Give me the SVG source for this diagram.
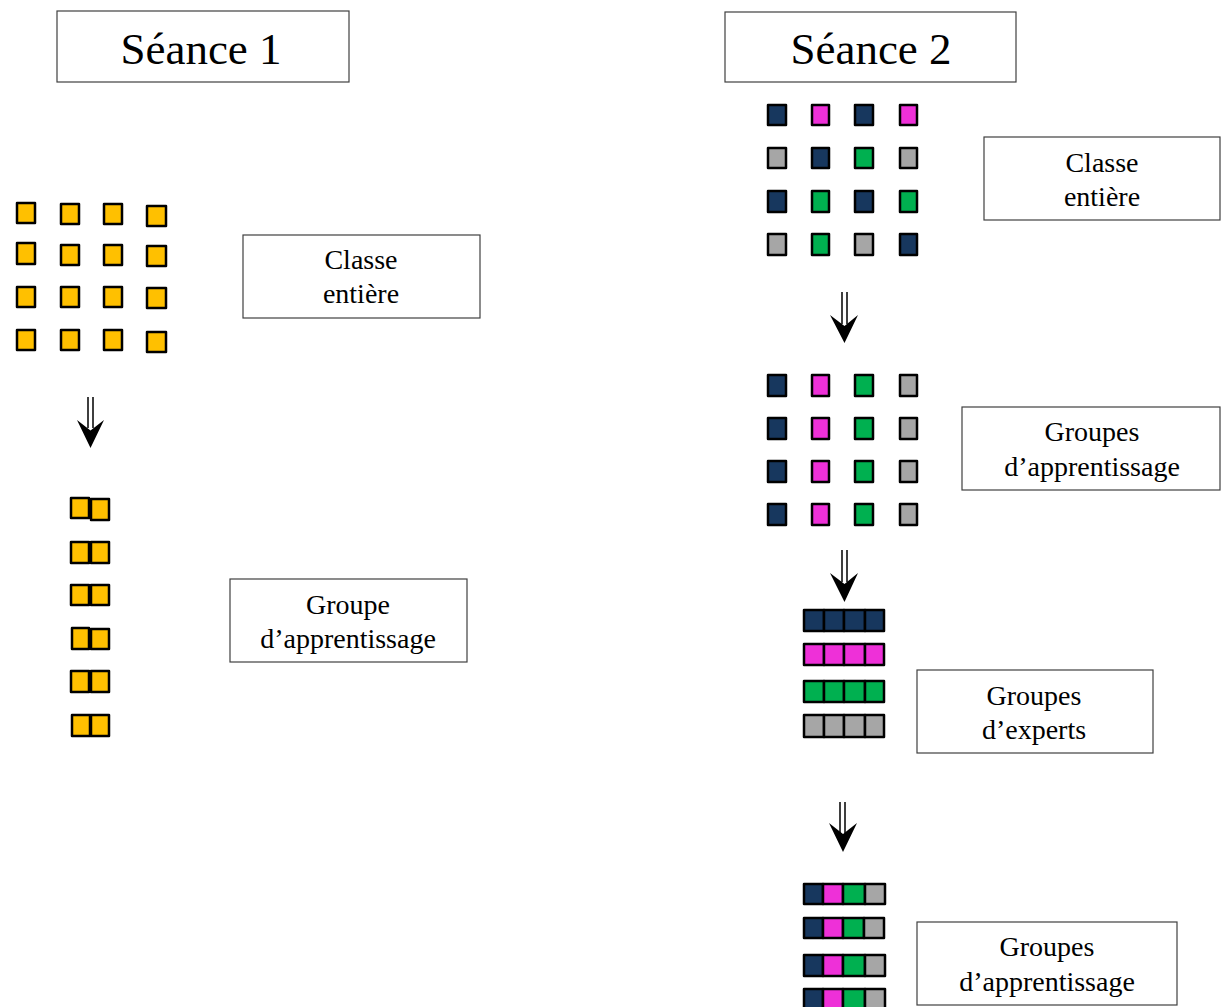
<svg xmlns="http://www.w3.org/2000/svg" width="1221" height="1007" viewBox="0 0 1221 1007">
<style>
.lbl{fill:#fff;stroke:#404040;stroke-width:1.2}
.t{font-family:"Liberation Serif","Times New Roman",serif;font-size:28px;fill:#000;text-anchor:middle}
.tt{font-family:"Liberation Serif","Times New Roman",serif;font-size:45px;fill:#000;text-anchor:middle}
.sq rect{stroke:#000;stroke-width:2.5;stroke-linejoin:round}
.o{fill:#FFC000}.n{fill:#17375E}.m{fill:#EE30D8}.g{fill:#00B050}.y{fill:#A6A6A6}
.shaft{stroke:#000;stroke-width:1.5;fill:none}
.head{fill:#000}
</style>
<rect width="1221" height="1007" fill="#fff"/>

<g id="seance1">
<rect class="lbl" x="57" y="11" width="292" height="71"/>
<text class="tt" x="201" y="64">Séance 1</text>
</g>
<g id="seance2">
<rect class="lbl" x="725" y="12" width="291" height="70"/>
<text class="tt" x="871" y="64">Séance 2</text>
</g>

<g id="label-classe-1">
<rect class="lbl" x="243" y="235" width="237" height="83"/>
<text class="t" x="361" y="269">Classe</text>
<text class="t" x="361" y="303">entière</text>
</g>
<g id="label-groupe-1">
<rect class="lbl" x="230" y="579" width="237" height="83"/>
<text class="t" x="348" y="614">Groupe</text>
<text class="t" x="348" y="648">d’apprentissage</text>
</g>
<g id="label-classe-2">
<rect class="lbl" x="984" y="137" width="236" height="83"/>
<text class="t" x="1102" y="172">Classe</text>
<text class="t" x="1102" y="206">entière</text>
</g>
<g id="label-groupes-2">
<rect class="lbl" x="962" y="407" width="258" height="83"/>
<text class="t" x="1092" y="441">Groupes</text>
<text class="t" x="1092" y="476">d’apprentissage</text>
</g>
<g id="label-experts">
<rect class="lbl" x="917" y="670" width="236" height="83"/>
<text class="t" x="1034" y="705">Groupes</text>
<text class="t" x="1034" y="739">d’experts</text>
</g>
<g id="label-groupes-3">
<rect class="lbl" x="917" y="922" width="260" height="83"/>
<text class="t" x="1047" y="956">Groupes</text>
<text class="t" x="1047" y="991">d’apprentissage</text>
</g>

<g id="classe-1" class="sq">
<rect class="o" x="17" y="203" width="18" height="20"/><rect class="o" x="61" y="204" width="18" height="20"/><rect class="o" x="104" y="204" width="18" height="20"/><rect class="o" x="147" y="206" width="19" height="20"/>
<rect class="o" x="17" y="243" width="18" height="21"/><rect class="o" x="61" y="245" width="18" height="20"/><rect class="o" x="104" y="245" width="18" height="20"/><rect class="o" x="147" y="246" width="19" height="20"/>
<rect class="o" x="17" y="287" width="18" height="20"/><rect class="o" x="61" y="287" width="18" height="20"/><rect class="o" x="104" y="287" width="18" height="20"/><rect class="o" x="147" y="288" width="19" height="20"/>
<rect class="o" x="17" y="330" width="18" height="20"/><rect class="o" x="61" y="330" width="18" height="20"/><rect class="o" x="104" y="330" width="18" height="20"/><rect class="o" x="147" y="332" width="19" height="20"/>
</g>

<g id="groupe-1" class="sq">
<rect class="o" x="71" y="498" width="18" height="20"/><rect class="o" x="91" y="499" width="18" height="21"/>
<rect class="o" x="71" y="542" width="18" height="21"/><rect class="o" x="91" y="542" width="18" height="21"/>
<rect class="o" x="71" y="585" width="18" height="20"/><rect class="o" x="91" y="585" width="18" height="20"/>
<rect class="o" x="72" y="628" width="17" height="21"/><rect class="o" x="91" y="629" width="18" height="20"/>
<rect class="o" x="71" y="671" width="18" height="21"/><rect class="o" x="91" y="671" width="18" height="21"/>
<rect class="o" x="72" y="715" width="18" height="21"/><rect class="o" x="91" y="715" width="18" height="21"/>
</g>

<g id="classe-2" class="sq">
<rect class="n" x="768" y="105" width="18" height="20"/><rect class="m" x="812" y="105" width="17" height="20"/><rect class="n" x="855" y="105" width="18" height="20"/><rect class="m" x="900" y="105" width="17" height="20"/>
<rect class="y" x="768" y="148" width="18" height="20"/><rect class="n" x="812" y="148" width="17" height="20"/><rect class="g" x="855" y="148" width="18" height="20"/><rect class="y" x="900" y="148" width="17" height="20"/>
<rect class="n" x="768" y="191" width="18" height="21"/><rect class="g" x="812" y="191" width="17" height="21"/><rect class="n" x="855" y="191" width="18" height="21"/><rect class="g" x="900" y="191" width="17" height="21"/>
<rect class="y" x="768" y="234" width="18" height="21"/><rect class="g" x="812" y="234" width="17" height="21"/><rect class="y" x="855" y="234" width="18" height="21"/><rect class="n" x="900" y="234" width="17" height="21"/>
</g>

<g id="groupes-2" class="sq">
<rect class="n" x="768" y="375" width="18" height="21"/><rect class="m" x="812" y="375" width="17" height="21"/><rect class="g" x="855" y="375" width="18" height="21"/><rect class="y" x="900" y="375" width="17" height="21"/>
<rect class="n" x="768" y="418" width="18" height="21"/><rect class="m" x="812" y="418" width="17" height="21"/><rect class="g" x="855" y="418" width="18" height="21"/><rect class="y" x="900" y="418" width="17" height="21"/>
<rect class="n" x="768" y="461" width="18" height="21"/><rect class="m" x="812" y="461" width="17" height="21"/><rect class="g" x="855" y="461" width="18" height="21"/><rect class="y" x="900" y="461" width="17" height="21"/>
<rect class="n" x="768" y="504" width="18" height="21"/><rect class="m" x="812" y="504" width="17" height="21"/><rect class="g" x="855" y="504" width="18" height="21"/><rect class="y" x="900" y="504" width="17" height="21"/>
</g>

<g id="experts" class="sq">
<rect class="n" x="804" y="610" width="20" height="21"/><rect class="n" x="824" y="610" width="20" height="21"/><rect class="n" x="844" y="610" width="21" height="21"/><rect class="n" x="865" y="610" width="19" height="21"/>
<rect class="m" x="804" y="644" width="20" height="21"/><rect class="m" x="824" y="644" width="20" height="21"/><rect class="m" x="844" y="644" width="21" height="21"/><rect class="m" x="865" y="644" width="19" height="21"/>
<rect class="g" x="804" y="681" width="20" height="21"/><rect class="g" x="824" y="681" width="20" height="21"/><rect class="g" x="844" y="681" width="21" height="21"/><rect class="g" x="865" y="681" width="19" height="21"/>
<rect class="y" x="804" y="715" width="20" height="22"/><rect class="y" x="824" y="715" width="20" height="22"/><rect class="y" x="844" y="715" width="21" height="22"/><rect class="y" x="865" y="715" width="19" height="22"/>
</g>

<g id="groupes-3" class="sq">
<rect class="n" x="804" y="884" width="19" height="20"/><rect class="m" x="823" y="884" width="20" height="20"/><rect class="g" x="843" y="884" width="22" height="20"/><rect class="y" x="865" y="884" width="20" height="20"/>
<rect class="n" x="804" y="918" width="19" height="20"/><rect class="m" x="823" y="918" width="20" height="20"/><rect class="g" x="843" y="918" width="21" height="20"/><rect class="y" x="864" y="918" width="20" height="20"/>
<rect class="n" x="804" y="955" width="19" height="21"/><rect class="m" x="823" y="955" width="20" height="21"/><rect class="g" x="843" y="955" width="22" height="21"/><rect class="y" x="865" y="955" width="20" height="21"/>
<rect class="n" x="804" y="989" width="19" height="21"/><rect class="m" x="823" y="989" width="20" height="21"/><rect class="g" x="843" y="989" width="22" height="21"/><rect class="y" x="865" y="989" width="20" height="21"/>
</g>

<g id="connectors">
<g id="arrow1">
<path class="shaft" d="M88 397V428M93 397V428"/>
<path class="head" d="M77 420L90.5 430.5L104 420L90.5 448Z"/>
</g>
<g id="arrow2">
<path class="shaft" d="M842 292V324M847 292V324"/>
<path class="head" d="M830 315L844.5 326L858 315L844.5 343Z"/>
</g>
<g id="arrow3">
<path class="shaft" d="M842 550V582M847 550V582"/>
<path class="head" d="M830 573L844.5 584L858 573L844.5 602Z"/>
</g>
<g id="arrow4">
<path class="shaft" d="M840 802V833M845 802V833"/>
<path class="head" d="M829 823L843 834L857 823L843 852Z"/>
</g>
</g>
</svg>
